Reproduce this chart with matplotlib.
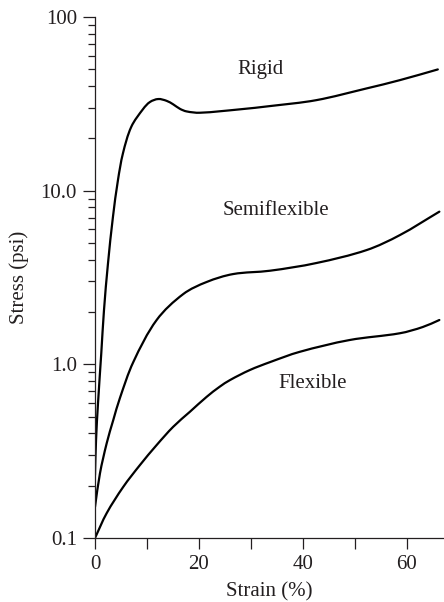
import numpy as np
import matplotlib
matplotlib.use("Agg")
import matplotlib.pyplot as plt
from matplotlib.path import Path
from matplotlib.patches import PathPatch
from matplotlib.ticker import FixedLocator, FixedFormatter, NullFormatter

# Stress–strain curves of foams (strain in %, stress in psi)
rigid_strain = [0.0, 0.2, 0.58, 1.21, 1.73, 2.5, 3.46, 4.42, 5.38, 6.98, 9.29,
                10.58, 12.17, 13.79, 15.06, 16.35, 17.63, 20.2, 27.9, 33.7,
                42.6, 52.3, 58.7, 66.0]
rigid_stress = [0.23, 0.366, 0.598, 1.16, 2.05, 3.81, 7.08, 11.5, 16.4, 23.3,
                29.6, 32.4, 33.7, 32.9, 31.4, 29.6, 28.6, 28.1, 29.4, 30.7,
                33.2, 38.8, 43.3, 49.9]

semi_strain = [0.0, 0.96, 2.25, 3.52, 4.8, 7.37, 11.87, 17.0, 21.5, 26.6,
               33.7, 42.6, 52.3, 58.7, 66.3]
semi_stress = [0.151, 0.236, 0.351, 0.478, 0.64, 1.03, 1.80, 2.54, 2.98,
               3.31, 3.46, 3.83, 4.55, 5.55, 7.57]

flex_strain = [0.0, 2.25, 5.44, 8.65, 11.87, 15.06, 18.27, 21.5, 24.0, 26.0,
               29.8, 33.7, 39.4, 49.0, 58.7, 63.1, 66.3]
flex_stress = [0.1, 0.139, 0.197, 0.263, 0.343, 0.437, 0.533, 0.65, 0.743,
               0.812, 0.927, 1.03, 1.18, 1.38, 1.51, 1.64, 1.80]

curve_names = ["Rigid", "Semiflexible", "Flexible"]
label_x = [31.9, 34.8, 41.9]
label_y = [50.1, 7.73, 0.771]

y_ticks = [0.1, 1.0, 10.0, 100.0]
y_tick_labels = ["0.1", "1.0", "10.0", "100"]
x_ticks = [0, 20, 40, 60]
x_minor_ticks = [10, 30, 50]

INK = "#231f20"
FS = 15
plt.rcParams["font.family"] = ["Liberation Serif", "DejaVu Serif"]

# Aspect of the plotting area: pixels per strain unit and per decade
X_SCALE, Y_SCALE = 5.2, 173.7


def smooth_path(xs, ys):
    """Chord-length Catmull-Rom curve through the points in (x, log10 y)."""
    p = np.column_stack([np.asarray(xs, float) * X_SCALE,
                         np.log10(np.asarray(ys, float)) * Y_SCALE])
    n = len(p)
    tangents = np.zeros_like(p)
    for i in range(n):
        a = p[max(i - 1, 0)]
        b = p[min(i + 1, n - 1)]
        d = b - a
        tangents[i] = d / np.hypot(*d)
    verts = [p[0]]
    codes = [Path.MOVETO]
    for i in range(n - 1):
        seg = np.hypot(*(p[i + 1] - p[i])) / 3.0
        verts += [p[i] + tangents[i] * seg, p[i + 1] - tangents[i + 1] * seg,
                  p[i + 1]]
        codes += [Path.CURVE4] * 3
    verts = np.array(verts)
    verts[:, 0] /= X_SCALE
    verts[:, 1] = 10 ** (verts[:, 1] / Y_SCALE)
    return Path(verts, codes)


fig = plt.figure(figsize=(4.44, 6.02), dpi=100)
ax = fig.add_axes([95 / 444, 64 / 602, 348 / 444, 521 / 602])
ax.set_yscale("log")
ax.set_xlim(0, 67)
ax.set_ylim(0.1, 100)

for xs, ys in [(rigid_strain, rigid_stress), (semi_strain, semi_stress),
               (flex_strain, flex_stress)]:
    ax.add_patch(PathPatch(smooth_path(xs, ys), fill=False, lw=1.6,
                           ec="black", transform=ax.transData,
                           capstyle="round", joinstyle="round"))

for name, lx, ly in zip(curve_names, label_x, label_y):
    ax.text(lx, ly, name, ha="center", va="center", fontsize=FS, color=INK)

for side in ["top", "right"]:
    ax.spines[side].set_visible(False)
for side in ["left", "bottom"]:
    ax.spines[side].set_linewidth(0.9)
    ax.spines[side].set_color(INK)

ax.yaxis.set_major_locator(FixedLocator(y_ticks))
ax.yaxis.set_major_formatter(FixedFormatter(y_tick_labels))
minor_y = [m * 10.0 ** e for e in range(-1, 2) for m in range(2, 10)]
ax.yaxis.set_minor_locator(FixedLocator(minor_y))
ax.yaxis.set_minor_formatter(NullFormatter())
ax.xaxis.set_major_locator(FixedLocator(x_ticks))
ax.xaxis.set_minor_locator(FixedLocator(x_minor_ticks))

ax.tick_params(axis="y", which="major", direction="out", length=9, width=0.9,
               color=INK, labelsize=FS, labelcolor=INK, pad=4)
ax.tick_params(axis="y", which="minor", direction="out", length=5, width=0.9,
               color=INK)
ax.tick_params(axis="x", which="both", direction="out", length=8, width=0.9,
               color=INK, labelsize=FS, labelcolor=INK, pad=4)

ax.set_xlabel("Strain (%)", fontsize=FS, color=INK, labelpad=6)
ax.set_ylabel("Stress (psi)", fontsize=FS, color=INK, labelpad=8)

fig.savefig("out.png", dpi=100)
